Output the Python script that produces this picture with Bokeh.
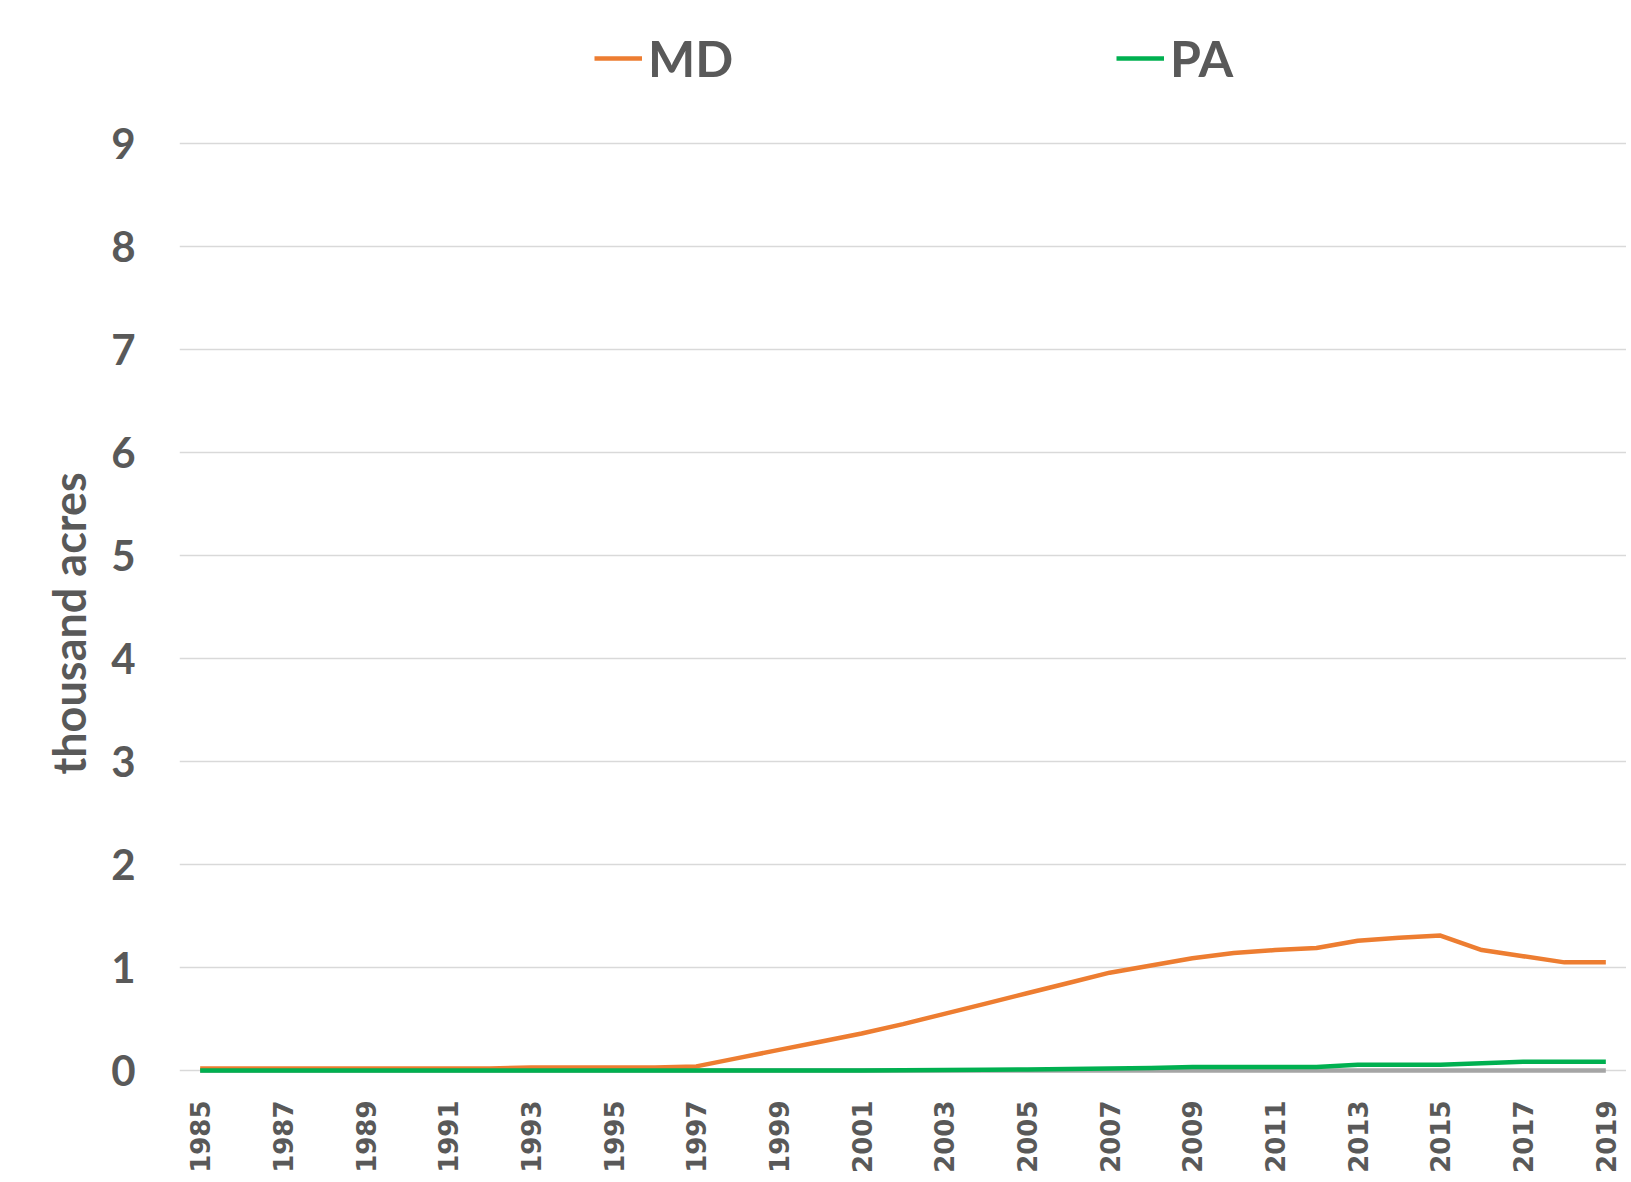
from bokeh.plotting import figure
from bokeh.models import Range1d, FixedTicker, Legend, LegendItem, Title
from bokeh.embed import file_html
from bokeh.resources import INLINE

years = list(range(1985, 2020))
md = [0.02, 0.02, 0.02, 0.02, 0.02, 0.02, 0.02, 0.02, 0.03, 0.03,
      0.03, 0.03, 0.04, 0.12, 0.20, 0.28, 0.36, 0.45, 0.55, 0.65,
      0.75, 0.85, 0.95, 1.02, 1.09, 1.14, 1.17, 1.19, 1.26, 1.29,
      1.31, 1.17, 1.11, 1.05, 1.05]
pa = [0.0, 0.0, 0.0, 0.0, 0.0, 0.0, 0.0, 0.0, 0.0, 0.0,
      0.0, 0.0, 0.0, 0.0, 0.0, 0.0, 0.0, 0.002, 0.005, 0.008,
      0.01, 0.015, 0.02, 0.025, 0.035, 0.035, 0.035, 0.035, 0.055, 0.055,
      0.055, 0.07, 0.085, 0.085, 0.085]
other = [0.0] * len(years)

y_ticks = [0, 1, 2, 3, 4, 5, 6, 7, 8, 9]
x_ticks = list(range(1985, 2020, 2))
y_title = "thousand acres"

TXT = "#595959"

p = figure(width=1626, height=1175, output_backend="svg", toolbar_location=None,
           x_range=Range1d(1984.5, 2019.5), y_range=Range1d(-0.0485, 10.196),
           min_border_left=179, min_border_right=0, min_border_top=20, min_border_bottom=10)
p.outline_line_color = None
p.background_fill_color = "white"
p.border_fill_color = "white"

p.xgrid.grid_line_color = None
p.ygrid.grid_line_color = "#d9d9d9"
p.ygrid.grid_line_width = 1.5

p.yaxis.ticker = FixedTicker(ticks=y_ticks)
p.yaxis.axis_line_color = None
p.yaxis.major_tick_line_color = None
p.yaxis.minor_tick_line_color = None
p.yaxis.major_label_standoff = 38
p.yaxis.major_label_text_font = "Lato"
p.yaxis.major_label_text_font_style = "bold"
p.yaxis.major_label_text_font_size = "42px"
p.yaxis.major_label_text_color = TXT

p.xaxis.ticker = FixedTicker(ticks=x_ticks)
p.xaxis.axis_line_color = None
p.xaxis.major_tick_line_color = None
p.xaxis.minor_tick_line_color = None
p.xaxis.major_label_orientation = 1.5707963
p.xaxis.major_label_standoff = 19
p.xaxis.major_label_text_font = "DejaVu Sans"
p.xaxis.major_label_text_font_style = "bold"
p.xaxis.major_label_text_font_size = "26px"
p.xaxis.major_label_text_color = TXT

r_other = p.line(years, other, line_color="#A5A5A5", line_width=4.5)
r_md = p.line(years, md, line_color="#ED7D31", line_width=4.5, line_join="round")
r_pa = p.line(years, pa, line_color="#00B050", line_width=4.5, line_join="round")

ttl = Title(text=y_title, align="left", offset=301, standoff=25,
            text_font="Lato", text_font_style="bold", text_font_size="45px",
            text_color=TXT)
p.add_layout(ttl, "left")


def make_legend(label, rend, x):
    return Legend(items=[LegendItem(label=label, renderers=[rend])], location=(x, 987),
                  orientation="horizontal", padding=0, margin=0, spacing=0,
                  glyph_width=48, glyph_height=30, label_standoff=6,
                  label_text_font="Lato", label_text_font_style="bold",
                  label_text_font_size="50px", label_text_color=TXT,
                  border_line_color=None, background_fill_alpha=0)


p.add_layout(make_legend("MD", r_md, 415), "center")
p.add_layout(make_legend("PA", r_pa, 937), "center")

open("out.html", "w").write(file_html(p, INLINE))
